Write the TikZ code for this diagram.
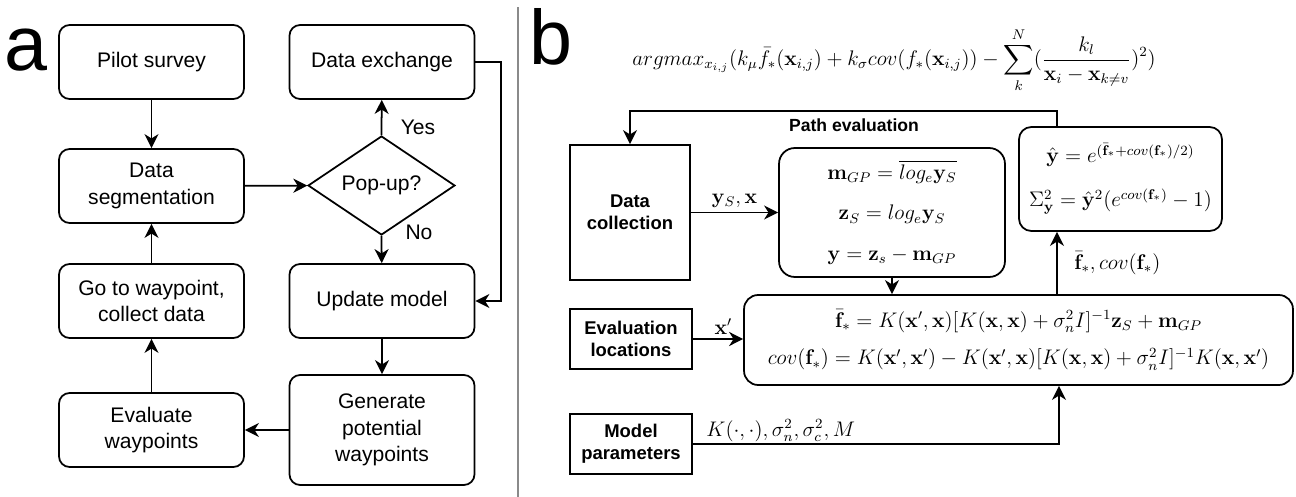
\documentclass[tikz,border=0pt]{standalone}
\usepackage{amsmath}
\usepackage[no-math]{fontspec}
\setmainfont{Liberation Sans}
\usetikzlibrary{arrows.meta,shapes.geometric}
\definecolor{ayracGri}{HTML}{8A8A8A}

\begin{document}
\begin{tikzpicture}[x=0.02cm,y=-0.02cm,
  flowbox/.style={draw,line width=1pt,rounded corners=6pt,minimum width=3.7cm,minimum height=1.48cm,align=center,font=\fontsize{12}{15}\selectfont},
  decision/.style={draw,line width=1pt,diamond,aspect=1.485,minimum width=2.94cm,minimum height=1.98cm,inner sep=0pt,font=\fontsize{12}{15}\selectfont},
  inbox/.style={draw,line width=1pt,align=center,font=\fontsize{10.5}{12.5}\selectfont\bfseries},
  mathbox/.style={draw,line width=1pt,align=center},
  lbl/.style={font=\fontsize{12}{15}\selectfont},
  arr/.style={-{Stealth[length=8pt,width=8pt,inset=2.5pt]},line width=1pt}]
\useasboundingbox (0,0) rectangle (1296,497);

% panel a
\node[font=\fontsize{44}{44}\selectfont] (labA) at (26,50) {a};
\node[flowbox] (pilot) at (151.5,62) {Pilot survey};
\node[flowbox] (seg) at (151.5,186) {Data\\segmentation};
\node[flowbox] (goto) at (151.5,301) {Go to waypoint,\\collect data};
\node[flowbox] (evalw) at (151.5,430) {Evaluate\\waypoints};
\node[flowbox] (exch) at (382,62) {Data exchange};
\node[decision] (pop) at (381.5,185.5) {Pop-up?};
\node[flowbox] (upd) at (382,301) {Update model};
\node[flowbox,minimum height=2.2cm] (gen) at (382,430) {Generate\\potential\\waypoints};
\node[lbl] (yes) at (418,127) {Yes};
\node[lbl] (no) at (419,232) {No};
\coordinate (rtop) at (501,62);

\draw[arr] (pilot) -- (seg);
\draw[arr] (seg) -- (pop);
\draw[arr] (pop.north) -- (exch);
\draw[arr] (pop.south) -- (upd);
\draw[arr] (exch.east) -- (rtop) |- (upd.east);
\draw[arr] (upd) -- (gen);
\draw[arr] (gen) -- (evalw);
\draw[arr] (evalw) -- (goto);
\draw[arr] (goto) -- (seg);

% divider
\draw[ayracGri,line width=1.6pt] (518,7) -- (518,497);

% panel b
\node[font=\fontsize{44}{44}\selectfont] (labB) at (551,37) {b};
\node[font=\fontsize{12}{14}\selectfont] (goal) at (894,60)
  {$\displaystyle argmax_{x_{i,j}}(k_\mu\bar{f}_*(\mathbf{x}_{i,j})+k_\sigma cov(f_*(\mathbf{x}_{i,j}))-\sum_{k}^{N}(\frac{k_l}{\mathbf{x}_i-\mathbf{x}_{k\neq v}})^2)$};
\node[font=\fontsize{10}{12}\selectfont\bfseries] (pathlbl) at (854,125) {Path evaluation};

\node[inbox,minimum width=2.4cm,minimum height=2.7cm] (datacol) at (630,212.5) {Data\\collection};
\node[inbox,minimum width=2.44cm,minimum height=1.2cm] (evalloc) at (631,339) {Evaluation\\locations};
\node[inbox,minimum width=2.44cm,minimum height=1.2cm] (modpar) at (631,444) {Model\\parameters};

\node[mathbox,rounded corners=9pt,minimum width=4.52cm,minimum height=2.58cm,font=\fontsize{12}{23}\selectfont] (logbox) at (892,212.5)
  {$\mathbf{m}_{GP}=\overline{log_e\mathbf{y}_S}$\\
   $\mathbf{z}_S=log_e\mathbf{y}_S$\\
   $\mathbf{y}=\mathbf{z}_s-\mathbf{m}_{GP}$};
\node[mathbox,rounded corners=7pt,minimum width=4.06cm,minimum height=2.08cm,font=\fontsize{12}{25}\selectfont] (backbox) at (1120.5,179)
  {$\hat{\mathbf{y}}=e^{(\bar{\mathbf{f}}_*+cov(\mathbf{f}_*)/2)}$\\
   $\Sigma^2_{\mathbf{y}}=\hat{\mathbf{y}}^2(e^{cov(\mathbf{f}_*)}-1)$};
\node[mathbox,rounded corners=8pt,minimum width=10.98cm,minimum height=1.8cm,font=\fontsize{12}{21.5}\selectfont] (gpbox) at (1018.5,340)
  {$\bar{\mathbf{f}}_*=K(\mathbf{x}',\mathbf{x})[K(\mathbf{x},\mathbf{x})+\sigma_n^2I]^{-1}\mathbf{z}_S+\mathbf{m}_{GP}$\\
   $cov(\mathbf{f}_*)=K(\mathbf{x}',\mathbf{x}')-K(\mathbf{x}',\mathbf{x})[K(\mathbf{x},\mathbf{x})+\sigma_n^2I]^{-1}K(\mathbf{x},\mathbf{x}')$};

\coordinate (pathR) at (1057,111);
\coordinate (pathL) at (630,111);
\coordinate (kup) at (1059,444);

\draw[arr] (pathR |- backbox.north) -- (pathR) -- (pathL) -- (datacol.north);
\draw[arr] (datacol.east) -- node[lbl,midway,above=-1pt] {$\mathbf{y}_S,\mathbf{x}$} (logbox.west);
\draw[arr] (logbox.south) -- (logbox.south |- gpbox.north);
\draw[arr] (pathR |- gpbox.north) -- node[lbl,midway,right=6pt] {$\bar{\mathbf{f}}_*,cov(\mathbf{f}_*)$} (pathR |- backbox.south);
\draw[arr] (evalloc.east) -- node[lbl,midway,above=-1pt,xshift=3pt] {$\mathbf{x}'$} (evalloc.east -| gpbox.west);
\draw[arr] (modpar.east) -- node[lbl,pos=0.03,anchor=south west,inner sep=1pt] {$K(\cdot,\cdot),\sigma_n^2,\sigma_c^2,M$} (kup) -- (kup |- gpbox.south);
\end{tikzpicture}
\end{document}
